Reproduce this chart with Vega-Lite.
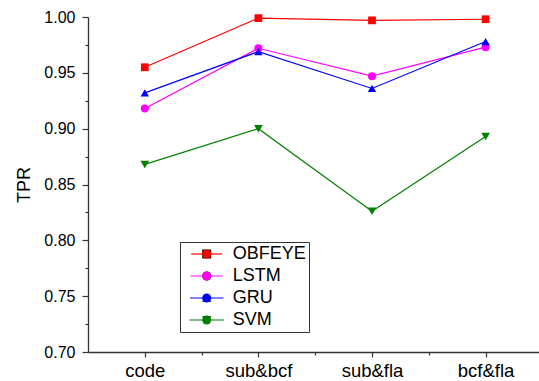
{
  "$schema": "https://vega.github.io/schema/vega-lite/v6.json",
  "width": 451,
  "height": 335,
  "autosize": {"type": "none"},
  "padding": {"left": 88, "top": 17, "right": 0, "bottom": 29},
  "config": {
    "view": {"stroke": null},
    "font": "Liberation Sans"
  },
  "data": {
    "values": [
      {"dataset": "code", "idx": 1, "model": "OBFEYE", "tpr": 0.955},
      {"dataset": "sub&bcf", "idx": 2, "model": "OBFEYE", "tpr": 0.999},
      {"dataset": "sub&fla", "idx": 3, "model": "OBFEYE", "tpr": 0.997},
      {"dataset": "bcf&fla", "idx": 4, "model": "OBFEYE", "tpr": 0.998},
      {"dataset": "code", "idx": 1, "model": "LSTM", "tpr": 0.918},
      {"dataset": "sub&bcf", "idx": 2, "model": "LSTM", "tpr": 0.972},
      {"dataset": "sub&fla", "idx": 3, "model": "LSTM", "tpr": 0.947},
      {"dataset": "bcf&fla", "idx": 4, "model": "LSTM", "tpr": 0.973},
      {"dataset": "code", "idx": 1, "model": "GRU", "tpr": 0.932},
      {"dataset": "sub&bcf", "idx": 2, "model": "GRU", "tpr": 0.969},
      {"dataset": "sub&fla", "idx": 3, "model": "GRU", "tpr": 0.936},
      {"dataset": "bcf&fla", "idx": 4, "model": "GRU", "tpr": 0.978},
      {"dataset": "code", "idx": 1, "model": "SVM", "tpr": 0.868},
      {"dataset": "sub&bcf", "idx": 2, "model": "SVM", "tpr": 0.900},
      {"dataset": "sub&fla", "idx": 3, "model": "SVM", "tpr": 0.826},
      {"dataset": "bcf&fla", "idx": 4, "model": "SVM", "tpr": 0.893}
    ]
  },
  "encoding": {
    "x": {
      "field": "idx",
      "type": "quantitative",
      "scale": {"domain": [0.5, 4.47], "nice": false, "zero": false},
      "axis": {
        "title": null,
        "grid": false,
        "values": [1, 1.5, 2, 2.5, 3, 3.5, 4],
        "labelExpr": "datum.value == 1 ? 'code' : datum.value == 2 ? 'sub&bcf' : datum.value == 3 ? 'sub&fla' : datum.value == 4 ? 'bcf&fla' : ''",
        "tickSize": {"condition": {"test": "datum.value % 1 != 0", "value": 3}, "value": 5},
        "tickColor": "#333",
        "tickWidth": 1.2,
        "domainColor": "#333",
        "domainWidth": 1.3,
        "labelFontSize": 18.5,
        "labelColor": "#000",
        "labelPadding": 4,
        "labelFlush": false,
        "labelOverlap": false
      }
    },
    "y": {
      "field": "tpr",
      "type": "quantitative",
      "scale": {"domain": [0.7, 1.0], "nice": false, "zero": false},
      "axis": {
        "title": "TPR",
        "titleFontSize": 18,
        "titleFontWeight": "normal",
        "titleColor": "#000",
        "titlePadding": 10,
        "grid": false,
        "values": [0.7, 0.725, 0.75, 0.775, 0.8, 0.825, 0.85, 0.875, 0.9, 0.925, 0.95, 0.975, 1.0],
        "labelExpr": "abs(datum.value * 20 - round(datum.value * 20)) < 0.01 ? format(datum.value, '.2f') : ''",
        "tickSize": {"condition": {"test": "abs(datum.value * 20 - round(datum.value * 20)) > 0.01", "value": 3}, "value": 6},
        "tickColor": "#333",
        "tickWidth": 1.2,
        "domainColor": "#333",
        "domainWidth": 1.3,
        "labelFontSize": 16,
        "labelColor": "#000",
        "labelPadding": 7,
        "labelFlush": false,
        "labelOverlap": false
      }
    }
  },
  "layer": [
    {
      "mark": {"type": "line", "strokeWidth": 1.2},
      "encoding": {
        "stroke": {
          "field": "model",
          "type": "nominal",
          "scale": {"domain": ["OBFEYE", "LSTM", "GRU", "SVM"], "range": ["#ff0000", "#ff00ff", "#0000ff", "#008000"]},
          "legend": {
            "title": null,
            "orient": "none",
            "legendX": 92,
            "legendY": 225,
            "padding": 3,
            "symbolOffset": 14.7,
            "symbolType": "M-4,0H4",
            "symbolSize": 100,
            "symbolStrokeWidth": 1.2,
            "rowPadding": 4,
            "labelOffset": 17,
            "labelFontSize": 18,
            "labelColor": "#000",
            "strokeColor": "#333",
            "fillColor": "white",
            "zindex": 1
          }
        },
        "detail": {"field": "model"}
      }
    },
    {
      "mark": {"type": "point", "filled": true, "opacity": 1},
      "encoding": {
        "fill": {
          "field": "model",
          "type": "nominal",
          "sort": ["OBFEYE", "LSTM", "GRU", "SVM"],
          "scale": {"range": ["#ff0000", "#ff00ff", "#0000ff", "#008000"]},
          "legend": {
            "title": null,
            "orient": "none",
            "legendX": 109.7,
            "legendY": 228,
            "padding": 0,
            "symbolOffset": 0,
            "symbolSize": 80,
            "symbolStrokeWidth": 0,
            "rowPadding": 4,
            "labelExpr": "''",
            "labelFontSize": 18,
            "zindex": 2
          }
        },
        "shape": {
          "field": "model",
          "type": "nominal",
          "sort": ["OBFEYE", "LSTM", "GRU", "SVM"],
          "scale": {"range": ["square", "circle", "triangle-up", "triangle-down"]},
          "legend": {
            "title": null,
            "orient": "none",
            "legendX": 109.7,
            "legendY": 228,
            "padding": 0,
            "symbolOffset": 0,
            "symbolSize": 80,
            "symbolStrokeWidth": 0,
            "rowPadding": 4,
            "labelExpr": "''",
            "labelFontSize": 18,
            "zindex": 2
          }
        },
        "size": {
          "field": "model",
          "type": "nominal",
          "scale": {"domain": ["OBFEYE", "LSTM", "GRU", "SVM"], "range": [60, 75, 100, 100]},
          "legend": null
        }
      }
    }
  ]
}
